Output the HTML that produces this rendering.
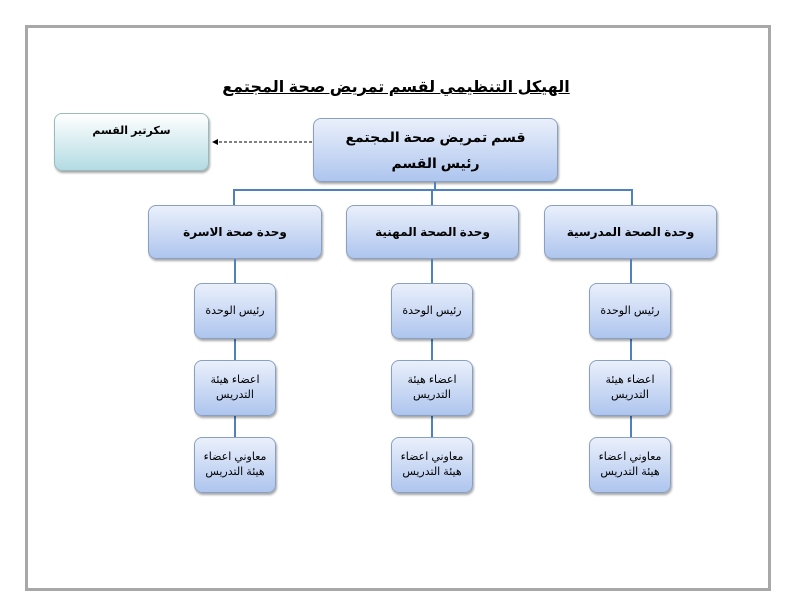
<!DOCTYPE html>
<html><head><meta charset="utf-8"><style>
body{margin:0;width:792px;height:612px;background:#fff;position:relative;overflow:hidden;font-family:"Liberation Sans","DejaVu Sans",sans-serif;}
.frame{position:absolute;left:25px;top:25px;width:740px;height:560px;border:3px solid #a8a8a8;}
.b{position:absolute;box-sizing:border-box;border:1px solid #8aa0c0;border-radius:8px;background:linear-gradient(#eaf0fb,#aec5ee);box-shadow:1px 2px 2px rgba(0,0,0,.35);display:flex;align-items:center;justify-content:center;text-align:center;direction:rtl;color:#000;}
.l{position:absolute;background:#4f81bd;}
.title{position:absolute;left:0;width:792px;top:77px;text-align:center;font-weight:bold;font-size:16px;text-decoration:underline;direction:rtl;}
.s{font-size:11px;line-height:15px;}
.u{font-size:12px;font-weight:bold;}
</style></head><body>
<div class="frame"></div>
<div class="title">الهيكل التنظيمي لقسم تمريض صحة المجتمع</div>
<div class="b" style="left:54px;top:113px;width:155px;height:58px;background:linear-gradient(#ffffff,#b3dbe3);border-color:#9bb;align-items:flex-start;padding-top:10px;font-size:11px;font-weight:bold;">سكرتير القسم</div>
<svg style="position:absolute;left:0;top:0" width="792" height="612">
<line x1="312" y1="142" x2="218" y2="142" stroke="#000" stroke-width="1" stroke-dasharray="3,2"/>
<polygon points="212,142 218,139 218,145" fill="#000"/>
</svg>
<div class="b" style="left:313px;top:118px;width:245px;height:64px;font-weight:bold;font-size:14px;line-height:26px;">قسم تمريض صحة المجتمع<br>رئيس القسم</div>
<div class="l" style="left:434px;top:182px;width:2px;height:9px"></div>
<div class="l" style="left:233px;top:189px;width:400px;height:2px"></div>
<div class="l" style="left:233px;top:189px;width:2px;height:16px"></div>
<div class="l" style="left:431px;top:189px;width:2px;height:16px"></div>
<div class="l" style="left:631px;top:189px;width:2px;height:16px"></div>
<div class="b u" style="left:148px;top:205px;width:174px;height:54px">وحدة صحة الاسرة</div>
<div class="b u" style="left:346px;top:205px;width:173px;height:54px">وحدة الصحة المهنية</div>
<div class="b u" style="left:544px;top:205px;width:173px;height:54px">وحدة الصحة المدرسية</div>

<div class="l" style="left:234px;top:259px;width:2px;height:178px"></div>
<div class="l" style="left:431px;top:259px;width:2px;height:178px"></div>
<div class="l" style="left:630px;top:259px;width:2px;height:178px"></div>

<div class="b s" style="left:194px;top:283px;width:82px;height:56px">رئيس الوحدة</div>
<div class="b s" style="left:391px;top:283px;width:82px;height:56px">رئيس الوحدة</div>
<div class="b s" style="left:589px;top:283px;width:82px;height:56px">رئيس الوحدة</div>
<div class="b s" style="left:194px;top:360px;width:82px;height:56px">اعضاء هيئة<br>التدريس</div>
<div class="b s" style="left:391px;top:360px;width:82px;height:56px">اعضاء هيئة<br>التدريس</div>
<div class="b s" style="left:589px;top:360px;width:82px;height:56px">اعضاء هيئة<br>التدريس</div>
<div class="b s" style="left:194px;top:437px;width:82px;height:56px">معاوني اعضاء<br>هيئة التدريس</div>
<div class="b s" style="left:391px;top:437px;width:82px;height:56px">معاوني اعضاء<br>هيئة التدريس</div>
<div class="b s" style="left:589px;top:437px;width:82px;height:56px">معاوني اعضاء<br>هيئة التدريس</div>
</body></html>
